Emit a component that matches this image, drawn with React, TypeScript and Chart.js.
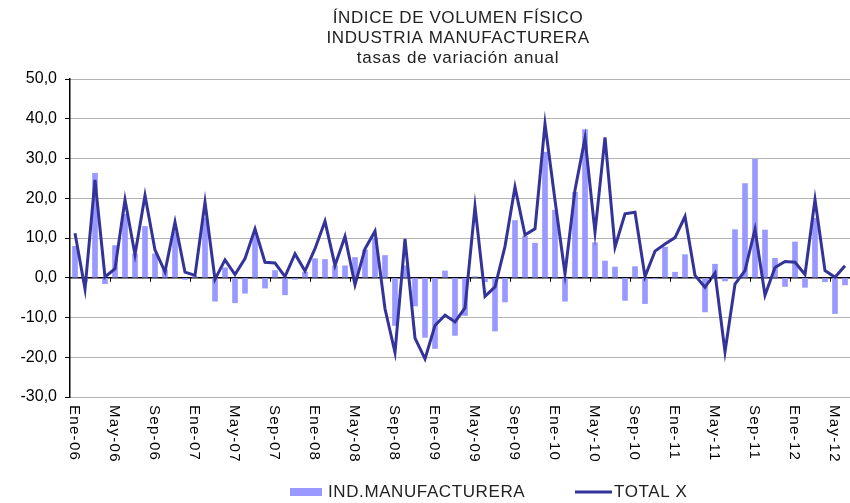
import React, { useEffect, useRef } from "react";
import { Chart, registerables } from "chart.js";

Chart.register(...registerables);

const categories: string[] = [
  "Ene-06","Feb-06","Mar-06","Abr-06","May-06","Jun-06","Jul-06","Ago-06","Sep-06","Oct-06","Nov-06","Dic-06",
  "Ene-07","Feb-07","Mar-07","Abr-07","May-07","Jun-07","Jul-07","Ago-07","Sep-07","Oct-07","Nov-07","Dic-07",
  "Ene-08","Feb-08","Mar-08","Abr-08","May-08","Jun-08","Jul-08","Ago-08","Sep-08","Oct-08","Nov-08","Dic-08",
  "Ene-09","Feb-09","Mar-09","Abr-09","May-09","Jun-09","Jul-09","Ago-09","Sep-09","Oct-09","Nov-09","Dic-09",
  "Ene-10","Feb-10","Mar-10","Abr-10","May-10","Jun-10","Jul-10","Ago-10","Sep-10","Oct-10","Nov-10","Dic-10",
  "Ene-11","Feb-11","Mar-11","Abr-11","May-11","Jun-11","Jul-11","Ago-11","Sep-11","Oct-11","Nov-11","Dic-11",
  "Ene-12","Feb-12","Mar-12","Abr-12","May-12","Jun-12",
];

const indManufacturera: number[] = [
  7.9, -1.0, 26.3, -1.5, 8.1, 16.0, 6.0, 12.9, 6.0, 2.0, 11.5, -0.4,
  0.3, 15.0, -5.9, 2.5, -6.3, -3.9, 11.0, -2.6, 1.8, -4.3, -0.4, 1.4,
  4.8, 4.6, 3.0, 3.0, 5.1, 7.0, 10.0, 5.6, -12.0, 3.0, -7.1, -15.0,
  -17.8, 1.7, -14.5, -9.5, 0.3, -1.0, -13.4, -6.1, 14.4, 10.4, 8.7, 31.6,
  17.0, -5.9, 21.5, 37.3, 8.8, 4.2, 2.7, -5.7, 2.8, -6.5, -0.3, 7.7,
  1.4, 5.8, 0.0, -8.6, 3.4, -0.8, 12.1, 23.7, 29.8, 12.0, 4.9, -2.2,
  9.0, -2.4, 15.0, -1.0, -9.0, -1.8,
];

const totalX: number[] = [
  11.2, -2.8, 24.6, 0.2, 2.3, 19.6, 5.8, 20.7, 7.0, 1.5, 14.0, 1.4,
  0.6, 19.0, -0.4, 4.5, 0.8, 4.8, 12.3, 3.9, 3.7, 0.3, 6.0, 1.7,
  7.3, 14.2, 3.1, 10.4, -1.8, 7.3, 11.7, -7.8, -18.8, 9.8, -15.2, -20.4,
  -12.0, -9.4, -11.1, -7.6, 17.9, -4.7, -2.3, 7.9, 22.8, 10.8, 12.3, 38.7,
  19.5, 1.0, 22.1, 35.1, 11.5, 35.3, 7.7, 16.1, 16.5, 0.3, 6.7, 8.5,
  10.1, 15.4, 0.6, -2.4, 1.2, -18.6, -1.6, 1.8, 12.2, -4.4, 2.6, 4.1,
  3.9, 0.8, 19.7, 1.8, 0.1, 3.0,
];

const titleLines: string[] = [
  "ÍNDICE DE VOLUMEN FÍSICO",
  "INDUSTRIA MANUFACTURERA",
  "tasas de variación anual",
];

const seriesNames: string[] = ["IND.MANUFACTURERA", "TOTAL X"];

const BAR_COLOR = "#9999FF";
const LINE_COLOR = "#333399";
const FONT = "'Liberation Sans', Arial, sans-serif";
const LABEL_EVERY = 4;

const decorPlugin = {
  id: "decor",
  beforeDatasetsDraw(chart: any) {
    const { ctx, chartArea, scales } = chart;
    const y0 = scales.y.getPixelForValue(0);
    ctx.save();
    ctx.strokeStyle = "#000";
    ctx.lineWidth = 1.5;
    ctx.beginPath();
    ctx.moveTo(chartArea.left, y0);
    ctx.lineTo(chartArea.right, y0);
    ctx.stroke();
    ctx.restore();
  },
  afterDraw(chart: any) {
    const { ctx, chartArea, scales } = chart;
    const xs = scales.x;
    const ys = scales.y;
    const y0 = ys.getPixelForValue(0);
    const half = (xs.getPixelForValue(1) - xs.getPixelForValue(0)) / 2;
    ctx.save();
    // x tick marks on zero line
    ctx.strokeStyle = "#000";
    ctx.lineWidth = 1;
    for (let i = LABEL_EVERY; i < categories.length; i += LABEL_EVERY) {
      const x = Math.round(xs.getPixelForValue(i) - half) + 0.5;
      ctx.beginPath();
      ctx.moveTo(x, y0);
      ctx.lineTo(x, y0 + 4);
      ctx.stroke();
    }
    // x labels rotated clockwise
    ctx.fillStyle = "#000";
    ctx.font = `15px ${FONT}`;
    (ctx as any).letterSpacing = "1.3px";
    ctx.textAlign = "left";
    ctx.textBaseline = "middle";
    for (let i = 0; i < categories.length; i += LABEL_EVERY) {
      const x = xs.getPixelForValue(i) - 1;
      ctx.save();
      ctx.translate(x, chartArea.bottom + 8);
      ctx.rotate(Math.PI / 2);
      ctx.fillText(categories[i], 0, 0);
      ctx.restore();
    }
    // title
    const cx = (chartArea.left + chartArea.right) / 2 - 2;
    ctx.fillStyle = "#222";
    ctx.textAlign = "center";
    ctx.textBaseline = "middle";
    ctx.font = `17px ${FONT}`;
    (ctx as any).letterSpacing = "0.6px";
    ctx.fillText(titleLines[0], cx, 18);
    ctx.fillText(titleLines[1], cx, 38);
    (ctx as any).letterSpacing = "0.8px";
    ctx.fillText(titleLines[2], cx, 58);
    // legend
    const ly = 492;
    ctx.fillStyle = BAR_COLOR;
    ctx.fillRect(290, ly - 4, 32, 8);
    ctx.fillStyle = "#222";
    ctx.textAlign = "left";
    ctx.font = `17px ${FONT}`;
    (ctx as any).letterSpacing = "0.6px";
    ctx.fillText(seriesNames[0], 328, ly);
    ctx.strokeStyle = LINE_COLOR;
    ctx.lineWidth = 3;
    ctx.beginPath();
    ctx.moveTo(575, ly);
    ctx.lineTo(612, ly);
    ctx.stroke();
    ctx.fillText(seriesNames[1], 614, ly);
    ctx.restore();
  },
};

export default function App() {
  const canvasRef = useRef<HTMLCanvasElement | null>(null);

  useEffect(() => {
    if (!canvasRef.current) return;
    const chart = new Chart(canvasRef.current, {
      type: "bar",
      data: {
        labels: categories,
        datasets: [
          {
            type: "bar",
            label: seriesNames[0],
            data: indManufacturera,
            backgroundColor: BAR_COLOR,
            barThickness: 5,
            order: 1,
          } as any,
          {
            type: "line",
            label: seriesNames[1],
            data: totalX,
            borderColor: LINE_COLOR,
            backgroundColor: LINE_COLOR,
            borderWidth: 3,
            pointRadius: 0,
            tension: 0,
            order: 0,
          } as any,
        ],
      },
      options: {
        animation: false,
        responsive: true,
        maintainAspectRatio: false,
        layout: { padding: { top: 79, bottom: 106, left: 0, right: 0 } },
        plugins: {
          legend: { display: false },
          title: { display: false },
          tooltip: { enabled: false },
        },
        scales: {
          x: {
            display: false,
            offset: true,
          },
          y: {
            min: -30,
            max: 50,
            afterFit: (scale: any) => {
              scale.width = 70;
            },
            ticks: {
              stepSize: 10,
              color: "#000",
              padding: 8,
              font: { family: FONT, size: 16 },
              callback: (v: any) => Number(v).toFixed(1).replace(".", ","),
            },
            grid: {
              color: "#666",
              tickColor: "#000",
              tickLength: 5,
              lineWidth: 1,
            },
            border: {
              display: true,
              color: "#000",
              width: 1.5,
              dash: [1, 1],
            },
          },
        },
      },
      plugins: [decorPlugin],
    });
    return () => chart.destroy();
  }, []);

  return (
    <div style={{ position: "absolute", left: 0, top: 0, width: 850, height: 503, background: "#fff" }}>
      <canvas ref={canvasRef} />
    </div>
  );
}
